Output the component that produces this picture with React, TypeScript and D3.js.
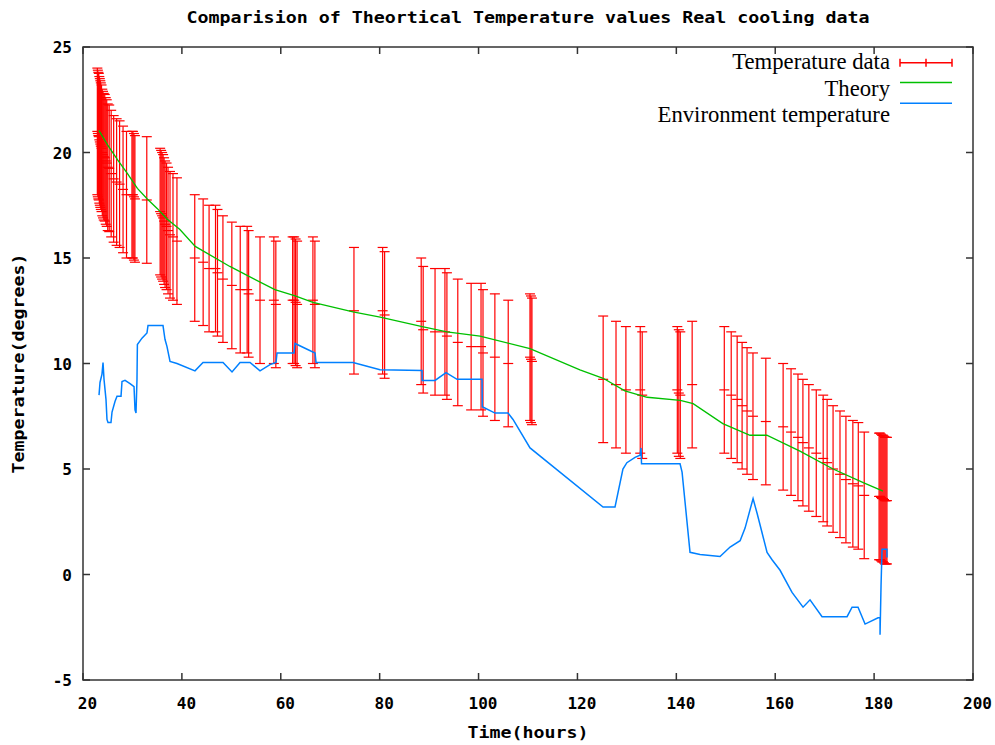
import React from "react";
import * as d3 from "d3";

const TITLE = "Comparision of Theortical Temperature values Real cooling data";
const X_LABEL = "Time(hours)";
const Y_LABEL = "Temperature(degrees)";
const LEGEND_LABELS = ["Temperature data", "Theory", "Environment temperature"];

const X_TICKS = [20, 40, 60, 80, 100, 120, 140, 160, 180, 200];
const Y_TICKS = [-5, 0, 5, 10, 15, 20, 25];

const TEMP_ERROR = 3;
const tempHours = [
  22.9, 23.0, 23.1, 23.2, 23.3, 23.4, 23.5, 23.6, 23.75, 23.9, 24.05, 24.2, 24.4, 24.6, 24.8, 25.0,
  25.3, 25.7, 26.2, 26.8, 27.4, 28.1, 28.8, 29.9, 30.1, 30.3, 30.5, 32.9, 35.6, 35.8, 36.0, 36.2,
  36.4, 36.6, 36.9, 37.2, 37.6, 38.2, 39.0, 42.6, 44.3, 45.5, 46.8, 47.2, 48.3, 50.1, 51.8, 53.2,
  53.5, 55.8, 58.6, 59.0, 62.4, 62.7, 63.0, 63.3, 66.5, 66.9, 74.8, 80.6, 81.0, 88.4, 88.8, 91.2,
  93.2, 93.6, 95.8, 98.5, 100.5, 100.9, 103.3, 106.0, 110.4, 110.6, 110.8, 125.2, 127.8, 129.8,
  132.7, 133.1, 140.2, 140.5, 140.8, 143.2, 149.7, 151.1, 152.3, 153.3, 154.3, 155.5, 158.1, 161.6,
  163.2, 164.6, 165.6, 166.8, 168.3, 169.7, 170.5, 171.7, 173.1, 174.3, 175.7, 176.8, 178.0, 181.0,
  181.2, 181.4, 181.6, 181.8, 182.0, 182.2, 182.4, 182.6,
];
const tempValues = [
  21.0, 20.9, 20.8, 20.75, 20.6, 20.5, 20.4, 20.3, 20.2, 20.0, 19.9, 19.8, 19.75, 19.6, 19.5, 19.3,
  19.25, 19.0, 18.75, 18.6, 18.5, 18.25, 18.0, 18.0, 18.0, 17.9, 17.8, 17.75, 17.2, 17.1, 17.0, 16.9,
  16.75, 16.6, 16.5, 16.3, 16.1, 16.0, 15.8, 15.0, 14.8, 14.5, 14.5, 14.3, 14.0, 13.7, 13.5, 13.5,
  13.3, 13.0, 13.0, 12.8, 13.0, 13.0, 12.9, 12.8, 13.0, 12.8, 12.5, 12.5, 12.3, 12.0, 11.6, 11.5,
  11.5, 11.3, 11.0, 10.8, 10.8, 10.5, 10.3, 10.0, 10.3, 10.2, 10.1, 9.25, 9.0, 8.75,
  8.75, 8.5, 8.75, 8.6, 8.5, 9.0, 8.75, 8.5, 8.3, 8.0, 7.75, 7.5, 7.25, 7.0,
  6.75, 6.5, 6.25, 6.0, 5.75, 5.5, 5.3, 5.0, 4.75, 4.5, 4.3, 4.2, 3.75, 3.7,
  3.7, 3.65, 3.6, 3.6, 3.55, 3.5, 3.5, 3.5,
];

const theoryHours = [
  23.2, 25.0, 27.0, 29.0, 31.0, 33.0, 35.0, 37.0, 39.6, 42.7, 49.7, 58.8, 62.9, 66.5, 74.6, 80.1, 88.6,
  93.6, 100.3, 110.4, 120.5, 125.2, 129.6, 134.1, 140.8, 143.4, 149.4, 154.9, 158.3, 165.0, 171.7,
  177.8, 181.8,
];
const theoryValues = [
  21.05, 20.35, 19.65, 19.0, 18.3, 17.8, 17.35, 16.85, 16.35, 15.55, 14.6, 13.5, 13.2, 12.9, 12.45, 12.2, 11.75,
  11.5, 11.3, 10.7, 9.7, 9.3, 8.7, 8.4, 8.25, 8.1, 7.15, 6.6, 6.6, 5.85, 5.0,
  4.35, 3.95,
];

const envHours = [
  23.24, 23.44, 23.84, 24.05, 24.25, 24.65, 24.85, 25.06, 25.66, 25.87, 26.47, 26.88, 27.69, 27.89,
  28.5, 29.51, 30.32, 30.52, 30.72, 30.92, 31.0, 31.93, 32.94, 33.15, 36.18, 36.58, 36.99, 37.6,
  39.01, 42.65, 44.27, 48.32, 50.14, 51.76, 53.78, 55.8, 57.82, 59.04, 59.24, 62.68, 62.88, 66.93,
  67.13, 74.61, 80.07, 88.57, 88.6, 91.2, 93.42, 95.65, 100.71, 100.75, 103.33, 105.96, 106.97,
  110.41, 125.18, 127.6, 129.2, 130.0, 131.65, 132.66, 132.86, 132.96, 140.75, 141.16, 142.77,
  144.8, 148.84, 150.87, 152.9, 153.9, 155.52, 156.33, 158.35, 159.36, 160.98, 163.4, 165.63,
  167.04, 169.47, 174.53, 175.54, 176.75, 178.17, 180.8, 181.2, 181.2, 181.4, 181.6, 182.6, 182.6,
];
const envValues = [
  8.5, 9.1, 9.5, 10.05, 9.25, 8.3, 7.35, 7.2, 7.2, 7.7, 8.2, 8.45, 8.45, 9.15,
  9.2, 9.05, 8.9, 7.8, 7.65, 9.25, 10.9, 11.2, 11.45, 11.8, 11.8, 11.15, 10.8, 10.1,
  10.0, 9.65, 10.05, 10.05, 9.6, 10.05, 10.05, 9.65, 9.95, 10.05, 10.5, 10.5, 10.95, 10.5,
  10.05, 10.05, 9.7, 9.67, 9.2, 9.2, 9.57, 9.25, 9.25, 7.95, 7.65, 7.65, 7.35,
  6.0, 3.2, 3.2, 5.0, 5.3, 5.55, 5.65, 6.0, 5.25, 5.25, 4.85, 1.05,
  0.95, 0.85, 1.3, 1.6, 2.2, 3.6, 2.9, 1.05, 0.7, 0.2, -0.85, -1.55,
  -1.2, -2.0, -2.0, -1.55, -1.55, -2.35, -2.05, -2.05, -2.85, -0.55, 1.2, 1.2, 0.8,
];

const W = 995;
const H = 745;
const LEFT = 83;
const RIGHT = 973;
const TOP = 47;
const BOTTOM = 680;

const RED = "#ff0000";
const GREEN = "#00c000";
const BLUE = "#0080ff";
const MONO = "'DejaVu Sans Mono', monospace";
const SERIF = "'Liberation Serif', 'DejaVu Serif', serif";

export default function App() {
  const x = d3.scaleLinear().domain([20, 200]).range([LEFT, RIGHT]);
  const y = d3.scaleLinear().domain([-5, 25]).range([BOTTOM, TOP]);

  const theoryLine = d3
    .line<number>()
    .x((_, i) => x(theoryHours[i]))
    .y((v) => y(v));
  const envLine = d3
    .line<number>()
    .x((_, i) => x(envHours[i]))
    .y((v) => y(v));

  const tickLen = 7;
  const capHalf = 5;

  return (
    <svg
      width={W}
      height={H}
      style={{ position: "absolute", left: 0, top: 0, background: "#fff" }}
    >
      <rect x={0} y={0} width={W} height={H} fill="#fff" />
      <text
        x={(LEFT + RIGHT) / 2}
        y={23}
        textAnchor="middle"
        fontFamily={MONO}
        fontWeight="bold"
        fontSize={16}
        textLength={683}
        lengthAdjust="spacingAndGlyphs"
        fill="#000"
      >
        {TITLE}
      </text>

      <g stroke={RED} strokeWidth={1.2} fill="none">
        {tempValues.map((v, i) => {
          const cx = x(tempHours[i]);
          const top = y(v + TEMP_ERROR);
          const bot = y(v - TEMP_ERROR);
          const mid = y(v);
          return (
            <g key={i}>
              <line x1={cx} x2={cx} y1={top} y2={bot} />
              <line x1={cx - capHalf} x2={cx + capHalf} y1={top} y2={top} />
              <line x1={cx - capHalf} x2={cx + capHalf} y1={bot} y2={bot} />
              <line x1={cx - capHalf} x2={cx + capHalf} y1={mid} y2={mid} />
            </g>
          );
        })}
      </g>

      <path d={theoryLine(theoryValues) || ""} fill="none" stroke={GREEN} strokeWidth={1.3} />
      <path d={envLine(envValues) || ""} fill="none" stroke={BLUE} strokeWidth={1.5} />

      <rect
        x={LEFT}
        y={TOP}
        width={RIGHT - LEFT}
        height={BOTTOM - TOP}
        fill="none"
        stroke="#333"
        strokeWidth={1.5}
      />

      {X_TICKS.map((t) => (
        <g key={"x" + t}>
          <line x1={x(t)} x2={x(t)} y1={BOTTOM} y2={BOTTOM - tickLen} stroke="#333" strokeWidth={1.5} />
          <line x1={x(t)} x2={x(t)} y1={TOP} y2={TOP + tickLen} stroke="#333" strokeWidth={1.5} />
          <text
            x={x(t) + 4.5}
            y={709}
            textAnchor="middle"
            fontFamily={MONO}
            fontWeight="bold"
            fontSize={16}
            fill="#000"
          >
            {t}
          </text>
        </g>
      ))}

      {Y_TICKS.map((t) => (
        <g key={"y" + t}>
          <line x1={LEFT} x2={LEFT + tickLen} y1={y(t)} y2={y(t)} stroke="#333" strokeWidth={1.5} />
          <line x1={RIGHT} x2={RIGHT - tickLen} y1={y(t)} y2={y(t)} stroke="#333" strokeWidth={1.5} />
          <text
            x={72}
            y={y(t) + 6}
            textAnchor="end"
            fontFamily={MONO}
            fontWeight="bold"
            fontSize={16}
            fill="#000"
          >
            {t}
          </text>
        </g>
      ))}

      <text
        x={(LEFT + RIGHT) / 2}
        y={738}
        textAnchor="middle"
        fontFamily={MONO}
        fontWeight="bold"
        fontSize={16}
        textLength={121}
        lengthAdjust="spacingAndGlyphs"
        fill="#000"
      >
        {X_LABEL}
      </text>
      <text
        transform={`translate(24, ${(TOP + BOTTOM) / 2}) rotate(-90)`}
        textAnchor="middle"
        fontFamily={MONO}
        fontWeight="bold"
        fontSize={16}
        textLength={220}
        lengthAdjust="spacingAndGlyphs"
        fill="#000"
      >
        {Y_LABEL}
      </text>

      {LEGEND_LABELS.map((lab, i) => (
        <text
          key={lab}
          x={890}
          y={69 + i * 26.5}
          textAnchor="end"
          fontFamily={SERIF}
          fontSize={22.7}
          fill="#000"
        >
          {lab}
        </text>
      ))}
      <g stroke={RED} strokeWidth={1.5}>
        <line x1={900} x2={952} y1={62.7} y2={62.7} />
        <line x1={900} x2={900} y1={58.7} y2={66.7} />
        <line x1={926} x2={926} y1={58.7} y2={66.7} />
        <line x1={952} x2={952} y1={58.7} y2={66.7} />
      </g>
      <line x1={900} x2={952} y1={82.5} y2={82.5} stroke={GREEN} strokeWidth={1.5} />
      <line x1={900} x2={952} y1={103.3} y2={103.3} stroke={BLUE} strokeWidth={1.5} />
    </svg>
  );
}
